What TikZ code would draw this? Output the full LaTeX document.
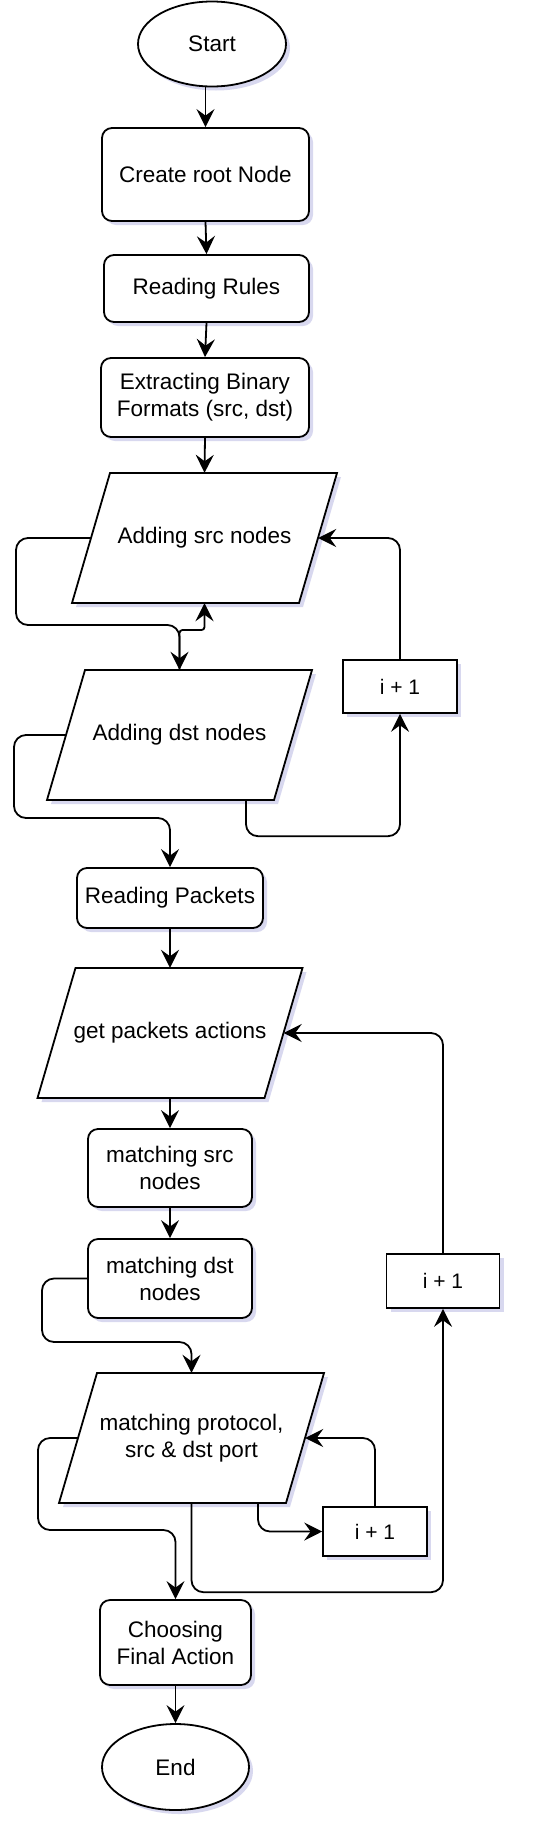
\documentclass[tikz,border=0pt]{standalone}
\usepackage{fontspec}
\setmainfont{Liberation Sans}
\usetikzlibrary{arrows.meta,shapes.geometric,shadows,calc}
\tikzset{
  shad/.style={drop shadow={shadow xshift=4pt, shadow yshift=-4pt, opacity=0.3, fill=black!40!blue!50}},
  base/.style={draw=black, line width=1.8pt, fill=white, align=center, inner sep=0pt,
    font=\fontsize{22.5}{27}\selectfont, shad},
  procbox/.style={base, rounded corners=10pt},
  term/.style={base, ellipse},
  incbox/.style={base, line width=1.6pt, font=\fontsize{21}{25}\selectfont},
  paratext/.style={align=center, inner sep=0pt, minimum width=227pt, minimum height=130pt,
    font=\fontsize{22.5}{27}\selectfont},
  tipstyle/.style={-{Stealth[length=18pt,width=18pt,inset=6.5pt,sharp]}},
  arr/.style={tipstyle, line width=1.8pt, rounded corners=12pt},
}
\newcommand\mypara[4]{%
  \coordinate (#1c) at (#2,#3);
  \draw[line width=1.8pt, fill=white, shad, line join=miter]
    ($(#1c)+(-94.5,-65)$) -- ($(#1c)+(132.5,-65)$) -- ($(#1c)+(94.5,65)$) -- ($(#1c)+(-132.5,65)$) -- cycle;
  \node[paratext] (#1) at (#1c) {#4};
}
\begin{document}
\begin{tikzpicture}[x=1pt,y=-1pt]
\fill[white] (0,0) rectangle (546,1834);
\useasboundingbox (0,0) rectangle (546,1834);

\node[term, minimum width=148pt, minimum height=85pt] (start) at (212,44) {Start};
\node[procbox, minimum width=207pt, minimum height=93pt] (create) at (205.5,174.5) {Create root Node};
\node[procbox, minimum width=205pt, minimum height=67pt] (rules) at (206.5,288.5) {Reading Rules};
\node[procbox, minimum width=208pt, minimum height=79pt] (extract) at (205,397.5) {Extracting Binary\\Formats (src, dst)};
\mypara{src}{204.5}{538}{Adding src nodes}
\mypara{dst}{179.5}{735}{Adding dst nodes}
\node[incbox, minimum width=114pt, minimum height=53pt] (inca) at (400,686.5) {i + 1};
\node[procbox, minimum width=186pt, minimum height=60pt] (packets) at (170,898) {Reading Packets};
\mypara{get}{170}{1033}{get packets actions}
\node[procbox, minimum width=164pt, minimum height=78pt] (msrc) at (170,1168) {matching src\\nodes};
\node[procbox, minimum width=164pt, minimum height=79pt] (mdst) at (170,1278.5) {matching dst\\nodes};
\node[incbox, minimum width=113pt, minimum height=54pt] (incb) at (443,1281) {i + 1};
\mypara{proto}{191.5}{1438}{matching protocol,\\src \& dst port}
\node[incbox, minimum width=104pt, minimum height=49pt] (incc) at (375,1531.5) {i + 1};
\node[procbox, minimum width=151pt, minimum height=85pt] (choose) at (175.5,1642.5) {Choosing\\Final Action};
\node[term, minimum width=147pt, minimum height=86pt] (end) at (175.5,1767) {End};

\draw[arr] (start.south -| create.north) -- (create.north);
\draw[arr] (create.south) -- (rules.north);
\draw[arr] (rules.south) -- (extract.north);
\draw[arr] (extract.south) -- (src.north);
\draw[arr] (src.west) -- (16,538) -- (16,625) -- (179.5,625) -- (dst.north);
\draw[arr, rounded corners=3pt] (dst.north) -- (179.5,630) -- (204.5,630) -- (src.south);
\draw[arr] ($(dst.south)+(66.5,0)$) -- ++(0,36) -| (inca.south);
\draw[arr] (inca.north) |- (src.east);
\draw[arr] (dst.west) -- (14,735) -- (14,818) -- (170,818) -- (packets.north);
\draw[arr] (packets.south) -- (get.north);
\draw[arr] (get.south) -- (msrc.north);
\draw[arr] (msrc.south) -- (mdst.north);
\draw[arr] (mdst.west) -- (42,1278.5) -- (42,1342) -- (191.5,1342) -- (proto.north);
\draw[arr] ($(proto.south)+(66.5,0)$) |- (incc.west);
\draw[arr] (incc.north) |- (proto.east);
\draw[arr] (proto.south) -- ++(0,89) -| (incb.south);
\draw[arr] (incb.north) |- (get.east);
\draw[arr] (proto.west) -- (38,1438) -- (38,1530) -- (175.5,1530) -- (choose.north);
\draw[arr] (choose.south) -- (end.north);
\end{tikzpicture}
\end{document}
